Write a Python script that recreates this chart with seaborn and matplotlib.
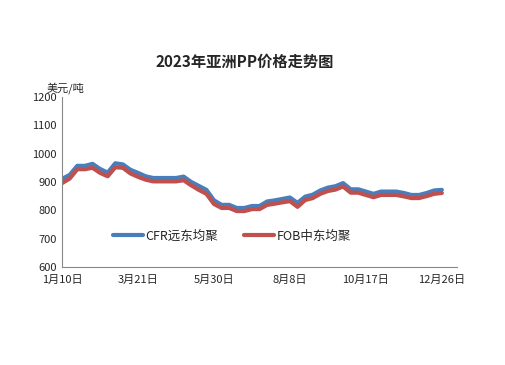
import matplotlib

matplotlib.use("Agg")

import matplotlib.pyplot as plt
import pandas as pd
import seaborn as sns

# weekly quotes, 2023-01-10 .. 2023-12-26
dates = pd.date_range("2023-01-10", "2023-12-26", freq="7D")
cfr_far_east = [
    911, 925, 957, 957, 964, 946, 933, 966, 962, 943,
    932, 920, 914, 914, 914, 914, 919, 900, 886, 872,
    835, 819, 819, 808, 808, 815, 815, 831, 835, 840,
    845, 826, 848, 855, 870, 880, 885, 896, 874, 874,
    866, 858, 866, 866, 866, 861, 854, 854, 861, 870,
    872,
]
fob_middle_east = [
    896, 912, 945, 945, 950, 932, 920, 952, 950, 930,
    918, 908, 902, 902, 902, 902, 906, 888, 872, 858,
    822, 808, 808, 797, 797, 804, 804, 819, 823, 828,
    832, 812, 836, 843, 858, 868, 873, 884, 862, 862,
    854, 846, 854, 854, 854, 849, 843, 843, 850, 858,
    861,
]
series_names = ["CFR远东均聚", "FOB中东均聚"]
tick_dates = pd.date_range("2023-01-10", "2023-12-26", freq="70D")
tick_labels = [f"{d.month}月{d.day}日" for d in tick_dates]

df = pd.concat(
    [
        pd.DataFrame({"date": dates, "price": cfr_far_east, "series": series_names[0]}),
        pd.DataFrame({"date": dates, "price": fob_middle_east, "series": series_names[1]}),
    ]
)

sns.set_theme(style="white")
plt.rcParams["font.family"] = ["Noto Sans CJK SC", "DejaVu Sans"]

fig = plt.figure(figsize=(5.05, 3.65), dpi=100)
ax = fig.add_axes([0.123, 0.269, 0.782, 0.465])

sns.lineplot(
    data=df,
    x="date",
    y="price",
    hue="series",
    palette=["#4a7ebb", "#c0504d"],
    linewidth=3.0,
    ax=ax,
)

ax.set_ylim(600, 1200)
ax.set_yticks(range(600, 1201, 100))
ax.set_xlim(pd.Timestamp("2023-01-10"), pd.Timestamp("2024-01-09"))
ax.set_xticks(tick_dates)
ax.set_xticklabels(tick_labels)
ax.tick_params(axis="x", length=4, width=0.8, color="#888888", direction="out", labelsize=8, pad=2)
ax.tick_params(axis="y", length=0, labelsize=8, pad=4)
ax.set_xlabel("")
ax.set_ylabel("")
for side in ("top", "right"):
    ax.spines[side].set_visible(False)
for side in ("left", "bottom"):
    ax.spines[side].set_color("#888888")
    ax.spines[side].set_linewidth(0.8)

ax.text(-0.04, 1.02, "美元/吨", transform=ax.transAxes, fontsize=8, ha="left", va="bottom")
fig.text(0.485, 0.83, "2023年亚洲PP价格走势图", fontsize=11, fontweight="bold", ha="center", va="center")

ax.legend(
    loc="center",
    bbox_to_anchor=(0.43, 0.18),
    ncol=2,
    frameon=False,
    fontsize=9,
    handlelength=2.4,
    columnspacing=2.1,
    handletextpad=0.2,
)

fig.savefig("out.png", dpi=100)
